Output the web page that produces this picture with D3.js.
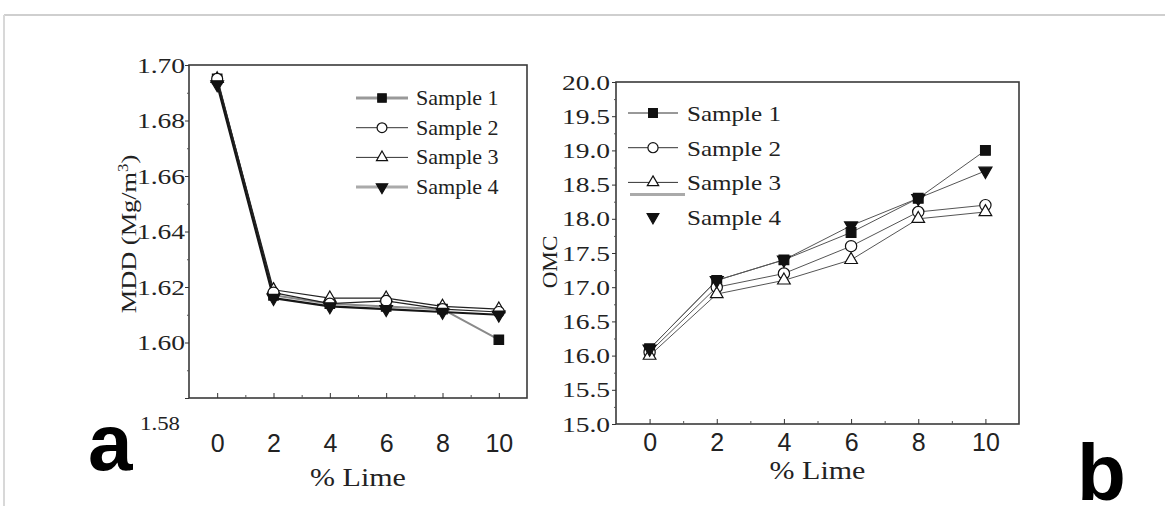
<!DOCTYPE html>
<html><head><meta charset="utf-8">
<script src="https://cdn.jsdelivr.net/npm/d3@7"></script>
<style>body{margin:0;background:#fff;} svg{display:block}</style>
</head><body><svg id="c" width="1165" height="506"></svg>
<script>
// ---- data ----
const limePct = [0, 2, 4, 6, 8, 10];
const seriesNames = ["Sample 1", "Sample 2", "Sample 3", "Sample 4"];
const mddSample1 = [1.695, 1.617, 1.614, 1.613, 1.612, 1.601];
const mddSample2 = [1.695, 1.618, 1.614, 1.615, 1.612, 1.611];
const mddSample3 = [1.695, 1.619, 1.616, 1.616, 1.613, 1.612];
const mddSample4 = [1.693, 1.616, 1.613, 1.612, 1.611, 1.610];
const omcSample1 = [16.1, 17.1, 17.4, 17.8, 18.3, 19.0];
const omcSample2 = [16.05, 17.0, 17.2, 17.6, 18.1, 18.2];
const omcSample3 = [16.0, 16.9, 17.1, 17.4, 18.0, 18.1];
const omcSample4 = [16.1, 17.1, 17.4, 17.9, 18.3, 18.7];
const mddTicks = [1.58, 1.60, 1.62, 1.64, 1.66, 1.68, 1.70];
const mddMinor = [1.59, 1.61, 1.63, 1.65, 1.67, 1.69];
const omcTicks = [15.0, 15.5, 16.0, 16.5, 17.0, 17.5, 18.0, 18.5, 19.0, 19.5, 20.0];
const omcMinor = [15.25, 15.75, 16.25, 16.75, 17.25, 17.75, 18.25, 18.75, 19.25, 19.75];
const limeTicks = [0, 2, 4, 6, 8, 10];
const limeMinor = [1, 3, 5, 7, 9];

const svg = d3.select("#c");
const SERIF = "'Liberation Serif','Times New Roman',serif";
const SANS = "'Liberation Sans',Arial,sans-serif";
const INK = "#222";

// page frame
svg.append("line").attr("x1", 4).attr("x2", 1165).attr("y1", 15).attr("y2", 15).attr("stroke", "#cfcfcf").attr("stroke-width", 2);
svg.append("line").attr("x1", 4).attr("x2", 4).attr("y1", 15).attr("y2", 506).attr("stroke", "#d8d8d8").attr("stroke-width", 2);

const symType = [d3.symbolSquare, d3.symbolCircle, d3.symbolTriangle, d3.symbolTriangle];
const symFill = ["#111", "#fff", "#fff", "#111"];
const symRot = [0, 0, 0, 180];
function marker(g, i, cx, cy, scale) {
  const sizes = [90, 95, 66, 70];
  g.append("path")
    .attr("d", d3.symbol().type(symType[i]).size(sizes[i] * scale)())
    .attr("transform", `translate(${cx},${cy}) rotate(${symRot[i]})`)
    .attr("fill", symFill[i]).attr("stroke", "#111").attr("stroke-width", 1.2);
}

function stretchText(g, x, y, txt, size, sx, family, anchor, rot) {
  return g.append("text")
    .attr("transform", `translate(${x},${y}) rotate(${rot || 0}) scale(${sx},1)`)
    .attr("text-anchor", anchor || "middle")
    .attr("font-family", family).attr("font-size", size).attr("fill", INK)
    .text(txt);
}

function panel(cfg) {
  const g = svg.append("g");
  const x = d3.scaleLinear().domain([-1, 11]).range(cfg.xr);
  const y = d3.scaleLinear().domain(cfg.yd).range(cfg.yr);
  const [x0, x1] = x.range();
  const [yb, yt] = y.range();

  // data lines
  const line = d3.line().x((d, i) => x(limePct[i])).y(d => y(d));
  cfg.order.forEach(i => {
    g.append("path").datum(cfg.series[i]).attr("d", line)
      .attr("fill", "none").attr("stroke", cfg.lineColor[i]).attr("stroke-width", cfg.lineWidth[i])
      .attr("stroke-linejoin", "round");
  });
  cfg.order.forEach(i => {
    cfg.series[i].forEach((v, k) => marker(g, i, x(limePct[k]), y(v), cfg.markScale));
  });

  // box
  g.append("rect").attr("x", x0).attr("y", yt).attr("width", x1 - x0).attr("height", yb - yt)
    .attr("fill", "none").attr("stroke", "#3a3a3a").attr("stroke-width", 1.6);

  // y axis
  const ya = g.append("g").attr("transform", `translate(${x0},0)`)
    .call(d3.axisLeft(y).tickValues(cfg.yTicks).tickSize(4).tickFormat(d3.format(cfg.yFmt)));
  ya.select(".domain").remove();
  ya.selectAll("line").attr("stroke", "#333");
  ya.selectAll("text").attr("x", 0).attr("dy", "0.32em")
    .attr("transform", `translate(${-cfg.yLabPad},0) scale(1.25,1)`)
    .attr("font-family", SERIF).attr("font-size", 22).attr("fill", INK);
  if (cfg.yLowLabel) {
    ya.selectAll(".tick").filter(d => d === cfg.yd[0]).select("text")
      .attr("transform", `translate(-9,25) scale(1.2,1)`).attr("font-size", 19);
  }
  const ym = g.append("g").attr("transform", `translate(${x0},0)`)
    .call(d3.axisLeft(y).tickValues(cfg.yMinor).tickSize(2).tickFormat(""));
  ym.select(".domain").remove();
  ym.selectAll("line").attr("stroke", "#555");

  // x axis
  const xa = g.append("g").attr("transform", `translate(0,${yb})`)
    .call(d3.axisBottom(x).tickValues(limeTicks).tickSize(-5).tickFormat(d3.format("d")));
  xa.select(".domain").remove();
  xa.selectAll("line").attr("stroke", "#333");
  xa.selectAll("text").attr("y", cfg.xLabOff).attr("dy", "0.35em")
    .attr("font-family", SANS).attr("font-size", 25).attr("fill", INK);
  const xm = g.append("g").attr("transform", `translate(0,${yb})`)
    .call(d3.axisBottom(x).tickValues(limeMinor).tickSize(-3).tickFormat(""));
  xm.select(".domain").remove();
  xm.selectAll("line").attr("stroke", "#555");

  // titles
  stretchText(g, (x0 + x1) / 2, cfg.xTitleY, "% Lime", 25, 1.2, SERIF, "middle");
  return { g, x, y };
}

// ---- panel a ----
const pa = panel({
  xr: [189, 527], yd: [1.58, 1.70], yr: [398, 65],
  series: [mddSample1, mddSample2, mddSample3, mddSample4],
  order: [0, 2, 1, 3],
  lineColor: ["#8a8a8a", "#222", "#222", "#161616"],
  lineWidth: [2, 1.2, 1.2, 2.2],
  markScale: 1.0,
  yTicks: mddTicks, yMinor: mddMinor, yFmt: ".2f", yLabPad: 4, yLowLabel: true,
  xLabOff: 45, xTitleY: 486
});
{
  const t = pa.g.append("text")
    .attr("transform", "translate(136,234) rotate(-90) scale(1.2,1)")
    .attr("text-anchor", "middle").attr("font-family", SERIF).attr("font-size", 22).attr("fill", INK);
  t.append("tspan").text("MDD (Mg/m");
  t.append("tspan").attr("font-size", 14).attr("dy", -8).text("3");
  t.append("tspan").attr("dy", 8).text(")");
}
// legend a
const legA = pa.g.append("g");
const legAColor = ["#999", "#333", "#333", "#aaa"];
const legAWidth = [3, 1, 1, 3];
seriesNames.forEach((name, i) => {
  const ly = 98 + i * 29.7;
  legA.append("line").attr("x1", 356).attr("x2", 408).attr("y1", ly).attr("y2", ly)
    .attr("stroke", legAColor[i]).attr("stroke-width", legAWidth[i]);
  marker(legA, i, 382, ly, 0.8);
  stretchText(legA, 416, ly + 7, name, 21, 1.05, SERIF, "start");
});

// ---- panel b ----
const pb = panel({
  xr: [616, 1019], yd: [15, 20], yr: [424, 82],
  series: [omcSample1, omcSample2, omcSample3, omcSample4],
  order: [0, 1, 2, 3],
  lineColor: ["#555", "#555", "#555", "#555"],
  lineWidth: [1, 1, 1, 1],
  markScale: 1.05,
  yTicks: omcTicks, yMinor: omcMinor, yFmt: ".1f", yLabPad: 6, yLowLabel: false,
  xLabOff: 18, xTitleY: 479
});
pb.g.append("text")
  .attr("transform", "translate(557,262) rotate(-90) scale(1.05,1)")
  .attr("text-anchor", "middle").attr("font-family", SERIF).attr("font-size", 22).attr("fill", INK)
  .text("OMC");
// legend b
const legB = pb.g.append("g");
seriesNames.forEach((name, i) => {
  const ly = 113 + i * 34.7;
  if (i < 3) {
    legB.append("line").attr("x1", 628).attr("x2", 678).attr("y1", ly).attr("y2", ly)
      .attr("stroke", "#333").attr("stroke-width", 1);
  }
  if (i === 2) {
    legB.append("line").attr("x1", 630).attr("x2", 685).attr("y1", ly + 12).attr("y2", ly + 12)
      .attr("stroke", "#aaa").attr("stroke-width", 3);
  }
  marker(legB, i, 653, ly, 0.85);
  stretchText(legB, 687, ly + 8, name, 22, 1.14, SERIF, "start");
});

// panel letters
svg.append("text").attr("x", 88).attr("y", 470).attr("font-family", SANS).attr("font-weight", "bold")
  .attr("font-size", 80).attr("fill", "#000").text("a");
svg.append("text").attr("x", 1077).attr("y", 500).attr("font-family", SANS).attr("font-weight", "bold")
  .attr("font-size", 80).attr("fill", "#000").text("b");
</script>
</body></html>
